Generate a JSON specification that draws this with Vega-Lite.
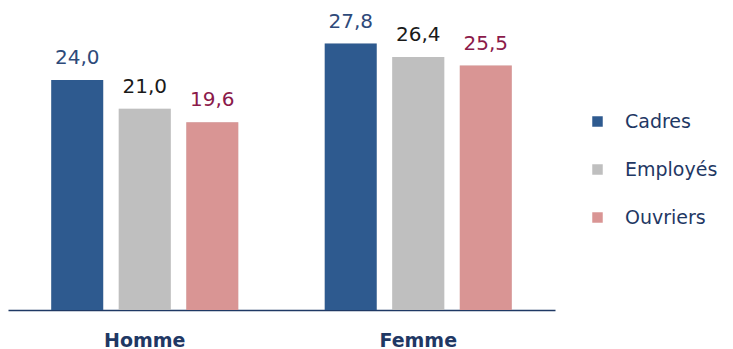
{
  "$schema": "https://vega.github.io/schema/vega-lite/v6.json",
  "width": 547,
  "height": 300,
  "autosize": "none",
  "padding": {"left": 8, "top": 10, "right": 178, "bottom": 39},
  "background": "white",
  "config": {
    "view": {"stroke": null},
    "font": "DejaVu Sans",
    "locale": {"number": {"decimal": ",", "thousands": " ", "grouping": [3], "currency": ["", " €"]}}
  },
  "data": {
    "values": [
      {"sexe": "Homme", "categorie": "Cadres", "valeur": 24.0},
      {"sexe": "Homme", "categorie": "Employés", "valeur": 21.0},
      {"sexe": "Homme", "categorie": "Ouvriers", "valeur": 19.6},
      {"sexe": "Femme", "categorie": "Cadres", "valeur": 27.8},
      {"sexe": "Femme", "categorie": "Employés", "valeur": 26.4},
      {"sexe": "Femme", "categorie": "Ouvriers", "valeur": 25.5}
    ]
  },
  "encoding": {
    "x": {
      "field": "sexe", "type": "nominal", "sort": ["Homme", "Femme"],
      "scale": {"paddingInner": 0, "paddingOuter": 0},
      "axis": {
        "title": null, "labelAngle": 0, "ticks": false, "grid": false,
        "domainColor": "#1F3864", "domainWidth": 1.5,
        "labelFontSize": 19, "labelFontWeight": "bold", "labelColor": "#1F3864",
        "labelPadding": 21
      }
    },
    "xOffset": {
      "field": "categorie", "type": "nominal", "sort": ["Cadres", "Employés", "Ouvriers"],
      "scale": {"paddingInner": 0.23, "paddingOuter": 0.64}
    },
    "y": {
      "field": "valeur", "type": "quantitative",
      "scale": {"domain": [0, 31.3], "nice": false},
      "axis": null
    }
  },
  "layer": [
    {
      "mark": {"type": "bar", "color": "#000000", "opacity": 0.12, "xOffset": 4},
      "encoding": {}
    },
    {
      "mark": {"type": "bar"},
      "encoding": {
        "color": {
          "field": "categorie", "type": "nominal", "sort": ["Cadres", "Employés", "Ouvriers"],
          "scale": {"domain": ["Cadres", "Employés", "Ouvriers"], "range": ["#2E5A8F", "#BFBFBF", "#D99594"]},
          "legend": {
            "title": null, "orient": "none", "legendX": 580, "legendY": 102,
            "symbolType": "square", "symbolSize": 110, "symbolStrokeWidth": 0,
            "labelFontSize": 19, "labelColor": "#1F3864", "labelOffset": 18,
            "rowPadding": 28
          }
        }
      }
    },
    {
      "mark": {"type": "text", "baseline": "bottom", "dy": -12, "fontSize": 20},
      "encoding": {
        "text": {"field": "valeur", "type": "quantitative", "format": ".1f"},
        "color": {
          "field": "categorie", "type": "nominal",
          "scale": {"domain": ["Cadres", "Employés", "Ouvriers"], "range": ["#2E4A7A", "#1A1A1A", "#8B1A4A"]},
          "legend": null
        }
      }
    }
  ],
  "resolve": {"scale": {"color": "independent"}}
}
